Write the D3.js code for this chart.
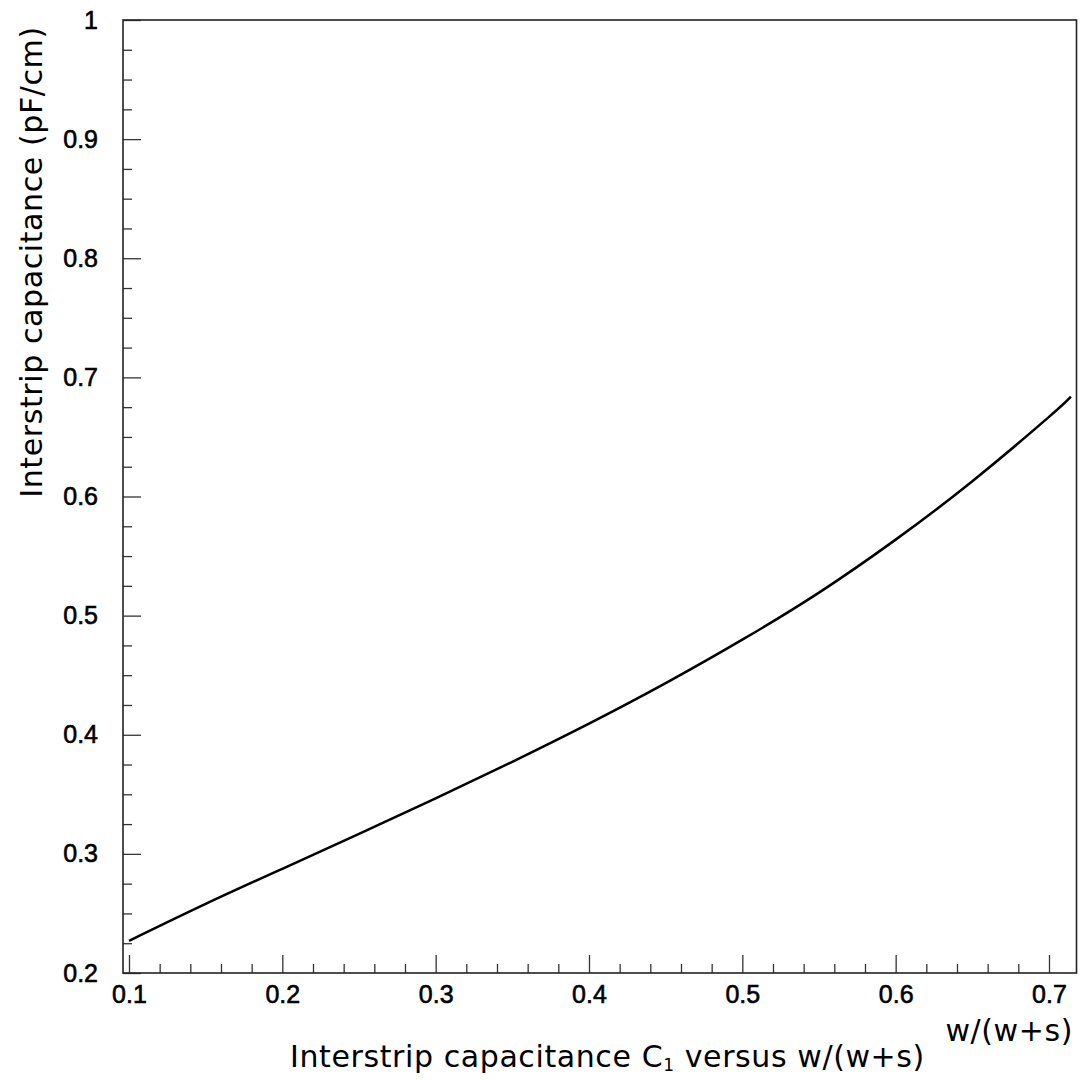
<!DOCTYPE html>
<html>
<head>
  <meta charset="utf-8">
  <title>Interstrip capacitance</title>
  <script src="https://cdn.jsdelivr.net/npm/d3@7"></script>
  <style>
    body { margin: 0; background: #fff; }
    text { font-family: "Liberation Sans", Arial, sans-serif; fill: #000; }
    .title { font-family: "DejaVu Sans", sans-serif; letter-spacing: 0.6px; }
  </style>
</head>
<body>
<div id="container"></div>
<script>
  // curve
  var ratio = [0.1, 0.15, 0.2, 0.25, 0.3, 0.35, 0.4, 0.45, 0.5, 0.55, 0.6, 0.65, 0.7, 0.7143];
  var capacitance = [0.227, 0.258, 0.2875, 0.3168, 0.3466, 0.3773, 0.4093, 0.4433, 0.4798,
                     0.5193, 0.5638, 0.6128, 0.6668, 0.6838];

  var xMajor = [0.1, 0.2, 0.3, 0.4, 0.5, 0.6, 0.7];
  var xMinor = [0.12, 0.14, 0.16, 0.18, 0.22, 0.24, 0.26, 0.28, 0.32, 0.34, 0.36, 0.38,
                0.42, 0.44, 0.46, 0.48, 0.52, 0.54, 0.56, 0.58, 0.62, 0.64, 0.66, 0.68];
  var yMajor = [0.2, 0.3, 0.4, 0.5, 0.6, 0.7, 0.8, 0.9, 1];
  var yMinor = [0.225, 0.25, 0.275, 0.325, 0.35, 0.375, 0.425, 0.45, 0.475, 0.525, 0.55, 0.575,
                0.625, 0.65, 0.675, 0.725, 0.75, 0.775, 0.825, 0.85, 0.875, 0.925, 0.95, 0.975];

  var width = 1089, height = 1081;
  var mLeft = 123, mRight = 1076.5, mTop = 20, mBottom = 973;

  var svg = d3.select("#container").append("svg")
      .attr("width", width).attr("height", height);

  var x = d3.scaleLinear().domain([0.09609, 0.71794]).range([mLeft, mRight]);
  var y = d3.scaleLinear().domain([0.2, 1]).range([mBottom, mTop]);

  var fmt = function(d){ return String(+d.toFixed(2)); };

  // minor ticks first, then major with labels
  svg.append("g").attr("transform", "translate(0," + mBottom + ")")
     .call(d3.axisBottom(x).tickValues(xMinor).tickSize(-9).tickFormat(""))
     .call(function(g){ g.select(".domain").remove(); });
  var gx = svg.append("g").attr("transform", "translate(0," + mBottom + ")")
     .call(d3.axisBottom(x).tickValues(xMajor).tickSize(-18).tickPadding(12).tickFormat(fmt));
  gx.select(".domain").remove();

  svg.append("g").attr("transform", "translate(" + mLeft + ",0)")
     .call(d3.axisLeft(y).tickValues(yMinor).tickSize(-9).tickFormat(""))
     .call(function(g){ g.select(".domain").remove(); });
  var gy = svg.append("g").attr("transform", "translate(" + mLeft + ",0)")
     .call(d3.axisLeft(y).tickValues(yMajor).tickSize(-18).tickPadding(25).tickFormat(fmt));
  gy.select(".domain").remove();

  svg.selectAll(".tick text")
     .attr("font-family", null)
     .attr("font-size", null)
     .style("font-size", "25px")
     .style("stroke", "#000").style("stroke-width", 0.6);
  svg.selectAll(".tick line").attr("stroke", "#333").attr("stroke-width", 1.3);

  // frame
  svg.append("rect")
     .attr("x", mLeft).attr("y", mTop)
     .attr("width", mRight - mLeft).attr("height", mBottom - mTop)
     .attr("fill", "none").attr("stroke", "#222").attr("stroke-width", 1.6);

  var line = d3.line()
     .x(function(d, i){ return x(ratio[i]); })
     .y(function(d){ return y(d); })
     .curve(d3.curveNatural);

  svg.append("path").datum(capacitance)
     .attr("d", line)
     .attr("fill", "none").attr("stroke", "#000").attr("stroke-width", 2.5);

  // titles
  var xt = svg.append("text").attr("class", "title")
     .attr("x", 290).attr("y", 1067)
     .style("font-size", "30px");
  xt.append("tspan").text("Interstrip capacitance C");
  xt.append("tspan").attr("dy", 4).style("font-size", "17px").text("1");
  xt.append("tspan").attr("dy", -4).text(" versus w/(w+s)");

  svg.append("text").attr("class", "title")
     .attr("x", 1073).attr("y", 1041)
     .attr("text-anchor", "end")
     .style("font-size", "30px")
     .text("w/(w+s)");

  svg.append("text").attr("class", "title")
     .attr("transform", "translate(42,262) rotate(-90)")
     .attr("text-anchor", "middle")
     .style("font-size", "30px")
     .text("Interstrip capacitance (pF/cm)");
</script>
</body>
</html>
